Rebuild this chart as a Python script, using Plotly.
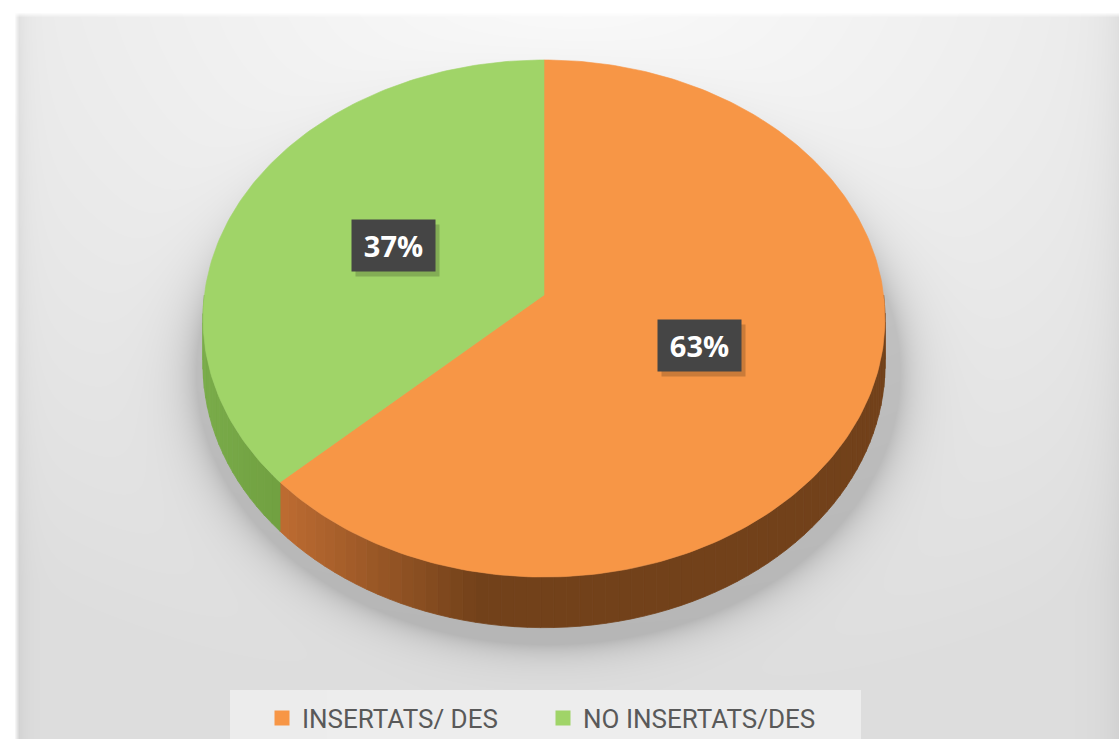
import math, zlib, struct, base64
import numpy as np
import plotly.graph_objects as go

# ---------------- data ----------------
categories = ["INSERTATS/ DES", "NO INSERTATS/DES"]
values = [63, 37]
labels = ["63%", "37%"]
top_colors = ["#F79646", "#A0D468"]

# ---------------- geometry / style ----------------
W, H = 1119, 739
CX, CY = 544.0, 295.0        # projected pie centre (px)
A, B = 339.6, 256.4          # horizontal / vertical radius
K = 0.0909                   # perspective factor
DEPTH = 46.0                 # pie thickness
LABEL_R = 0.49


def proj(theta_deg, r=1.0, z=0.0):
    t = math.radians(theta_deg)
    X = r * math.sin(t)
    Y = r * math.cos(t)
    w = 1 + K * Y
    return CX + A * X / w, CY - B * Y / w + z / w


def arc(a0, a1, z=0.0):
    n = max(2, int(abs(a1 - a0)) + 1)
    pts = [proj(a0 + (a1 - a0) * i / (n - 1), 1.0, z) for i in range(n)]
    return pts


def side_color(i, xm):
    if i == 0:
        light = np.array([190, 108, 50]); dark = np.array([114, 65, 26])
        t = min(max((xm - 280) / 200.0, 0), 1)
    else:
        light = np.array([122, 172, 74]); dark = np.array([112, 160, 64])
        t = min(max((xm - 205) / 80.0, 0), 1)
    c = light * (1 - t) + dark * t
    return "rgb(%d,%d,%d)" % tuple(int(v) for v in c)


# ---------------- background image ----------------
yy, xx = np.mgrid[0:H, 0:W].astype(float)
d = np.sqrt(((xx - 570) / 1000.0) ** 2 + ((yy + 60) / 760.0) ** 2)
g = 252 - 30 * np.clip(d, 0, 1)
# pie shadow
e = np.sqrt(((xx - 548) / 352.0) ** 2 + ((yy - 372) / 272.0) ** 2)
dist = np.clip(e - 1, 0, None) * 300
g -= 42 * np.exp(-dist / 18.0)
# right edge darkening
g -= 12 * np.exp(-(W - xx) / 18.0)
# legend box
box = (xx >= 230) & (xx <= 860) & (yy >= 690)
g[box] = 237
# left edge shadow band
g -= 14 * np.exp(-np.clip(xx - 16, 0, None) / 9.0)
a = np.clip((xx - 14) / 5.0, 0, 1) * np.clip((yy - 12) / 5.0, 0, 1)
g = 255 * (1 - a) + g * a
img = np.clip(g, 0, 255).astype(np.uint8)

raw = b"".join(b"\x00" + img[r].tobytes() for r in range(H))


def chunk(tag, data):
    c = struct.pack(">I", len(data)) + tag + data
    return c + struct.pack(">I", zlib.crc32(tag + data) & 0xFFFFFFFF)


png = b"\x89PNG\r\n\x1a\n" + chunk(b"IHDR", struct.pack(">IIBBBBB", W, H, 8, 0, 0, 0, 0)) \
    + chunk(b"IDAT", zlib.compress(raw, 9)) + chunk(b"IEND", b"")
bg_uri = "data:image/png;base64," + base64.b64encode(png).decode()

# ---------------- figure ----------------
fig = go.Figure()

total = float(sum(values))
starts, ends = [], []
acc = 0.0
for v in values:
    starts.append(acc / total * 360.0)
    acc += v
    ends.append(acc / total * 360.0)

# side walls (visible front half)
for i in range(len(values)):
    s0 = max(starts[i], 90.0)
    s1 = min(ends[i], 270.0)
    if s1 <= s0:
        continue
    nstrip = max(1, int((s1 - s0) / 2))
    for k in range(nstrip):
        t0 = s0 + (s1 - s0) * k / nstrip
        t1 = s0 + (s1 - s0) * (k + 1) / nstrip
        top = arc(t0, t1)
        bot = arc(t1, t0, DEPTH)
        pts = top + bot + [top[0]]
        xm = sum(p[0] for p in top) / len(top)
        col = side_color(i, xm)
        fig.add_trace(go.Scatter(
            x=[p[0] for p in pts], y=[p[1] for p in pts], mode="lines",
            fill="toself", fillcolor=col, line=dict(color=col, width=0.8),
            hoverinfo="skip", showlegend=False))

# top faces
for i in range(len(values)):
    pts = [(CX, CY)] + arc(starts[i], ends[i]) + [(CX, CY)]
    fig.add_trace(go.Scatter(
        x=[p[0] for p in pts], y=[p[1] for p in pts], mode="lines",
        fill="toself", fillcolor=top_colors[i],
        line=dict(color=top_colors[i], width=0.6),
        hoverinfo="skip", showlegend=False))

# legend entries
for i in range(len(values)):
    fig.add_trace(go.Scatter(
        x=[None], y=[None], mode="markers", name=categories[i],
        marker=dict(symbol="square", size=15, color=top_colors[i])))

# data labels
annotations = []
for i in range(len(values)):
    mid = (starts[i] + ends[i]) / 2
    lx, ly = proj(mid, LABEL_R)
    annotations.append(dict(
        x=lx + 4, y=ly + 5, xref="x", yref="y", text="", showarrow=False,
        width=83, height=51, bgcolor="rgba(0,0,0,0.18)", borderpad=0))
    annotations.append(dict(
        x=lx, y=ly, xref="x", yref="y", text="<b>%s</b>" % labels[i],
        showarrow=False, width=83, height=51, bgcolor="#454545", borderpad=0,
        font=dict(family="Open Sans", size=29, color="white")))

fig.update_layout(
    width=W, height=H, autosize=False,
    margin=dict(l=0, r=0, t=0, b=0, pad=0, autoexpand=False),
    paper_bgcolor="white", plot_bgcolor="rgba(0,0,0,0)",
    xaxis=dict(range=[0, W], visible=False, fixedrange=True),
    yaxis=dict(range=[H, 0], visible=False, fixedrange=True),
    images=[dict(source=bg_uri, xref="paper", yref="paper", x=0, y=1,
                 sizex=1, sizey=1, sizing="stretch", layer="below",
                 xanchor="left", yanchor="top")],
    annotations=annotations,
    showlegend=True,
    legend=dict(orientation="h", x=262 / W, xanchor="left",
                y=1 - 718 / H, yanchor="middle", bgcolor="rgba(0,0,0,0)",
                entrywidth=236, entrywidthmode="pixels",
                font=dict(family="Roboto", size=26, color="#595959"),
                itemclick=False, itemdoubleclick=False),
)

fig.write_html("out.html")
